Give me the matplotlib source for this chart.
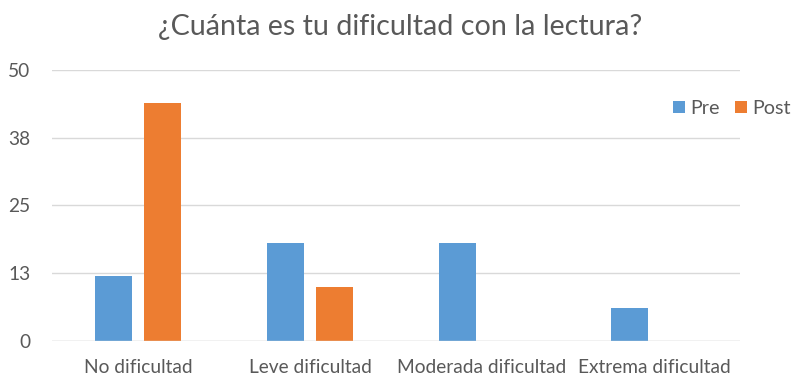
import matplotlib
matplotlib.use("Agg")
import matplotlib.pyplot as plt
import numpy as np

categories = ["No dificultad", "Leve dificultad", "Moderada dificultad", "Extrema dificultad"]
pre = [12, 18, 18, 6]
post = [44, 10, 0, 0]
yticks = [0, 12.5, 25, 37.5, 50]
ytick_labels = ["0", "13", "25", "38", "50"]

plt.rcParams['font.family'] = ['Lato', 'DejaVu Sans']
txt = '#595959'

fig = plt.figure(figsize=(8, 3.86), dpi=100)
ax = fig.add_axes([0.065, 0.1166, 0.86, 0.7021])

x = np.arange(len(categories))
w = 0.22
off = 0.142
ax.bar(x - off, pre, w, color='#5B9BD5', label='Pre', zorder=3)
ax.bar(x + off, post, w, color='#ED7D31', label='Post', zorder=3)

ax.set_xlim(-0.5, len(categories) - 0.5)
ax.set_ylim(0, 50)
ax.set_yticks(yticks)
ax.set_yticklabels(ytick_labels)
ax.set_xticks(x)
ax.set_xticklabels(categories)
ax.tick_params(axis='both', length=0, labelsize=13.8, colors=txt)
ax.tick_params(axis='x', pad=13)
ax.tick_params(axis='y', pad=15.5)
ax.grid(axis='y', color='#D9D9D9', linewidth=1, zorder=0)
for s in ax.spines.values():
    s.set_visible(False)
ax.axhline(0, color='#D9D9D9', linewidth=1, zorder=4)

fig.text(0.5, 0.93, "¿Cuánta es tu dificultad con la lectura?", ha='center', va='center',
         fontsize=20.6, color=txt)

leg = ax.legend(loc='upper left', bbox_to_anchor=(0.903, 0.89), ncol=2, frameon=False,
                fontsize=14.2, handlelength=0.6, handleheight=0.6, handletextpad=0.25,
                columnspacing=0.8, labelcolor=txt, borderpad=0, borderaxespad=0)

fig.savefig("out.png", dpi=100)
